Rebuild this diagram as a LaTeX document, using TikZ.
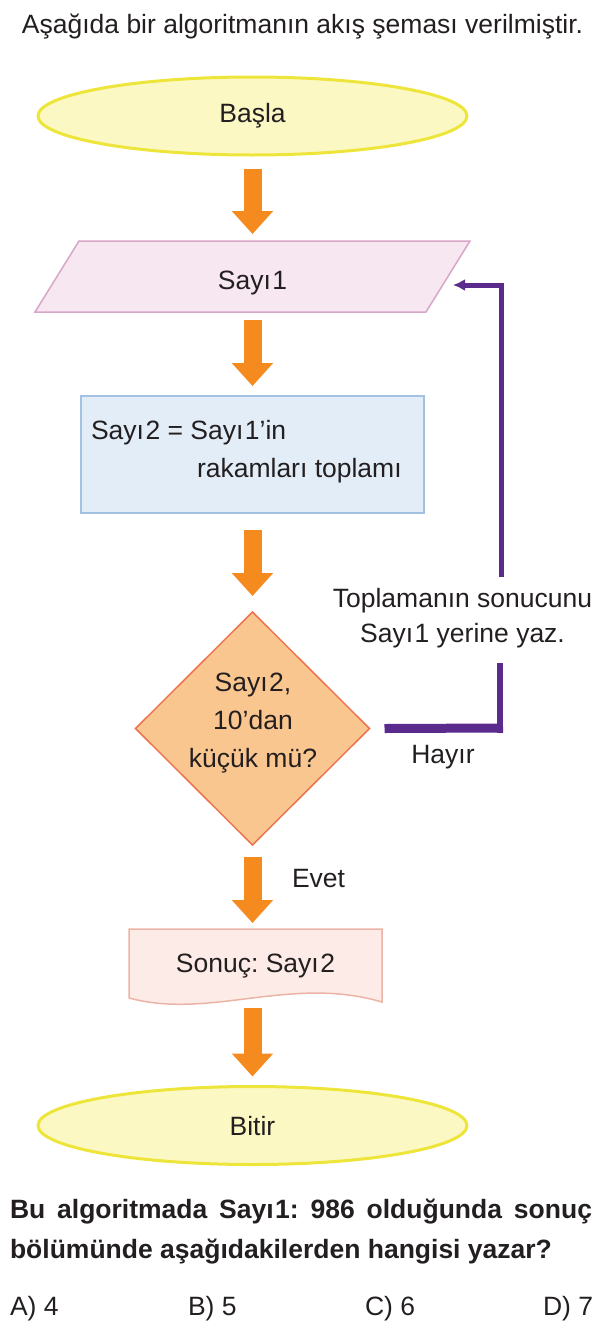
\documentclass[tikz,border=0pt]{standalone}
\usepackage{fontspec}
\setmainfont{Liberation Sans}
\usetikzlibrary{shapes.geometric,arrows.meta}
\definecolor{txt}{HTML}{231F20}
\definecolor{ellfill}{HTML}{FCF8C4}
\definecolor{elldraw}{HTML}{EDE53A}
\definecolor{parfill}{HTML}{F6E7F1}
\definecolor{pardraw}{HTML}{D8A6C8}
\definecolor{recfill}{HTML}{E2EDF8}
\definecolor{recdraw}{HTML}{A3C2E2}
\definecolor{diafill}{HTML}{FAC68F}
\definecolor{diadraw}{HTML}{EC7550}
\definecolor{docfill}{HTML}{FCEBE6}
\definecolor{docdraw}{HTML}{EBB4A6}
\definecolor{orng}{HTML}{F58A1F}
\definecolor{purp}{HTML}{5A2A8C}
\newcommand{\sy}{Sayı\kern1.5pt}
\frenchspacing
\begin{document}
\begin{tikzpicture}[x=1pt,y=-1pt,
  font=\fontsize{26.5}{31}\selectfont, text=txt,
  every node/.style={inner sep=0pt, outer sep=0pt},
  term/.style={ellipse, draw=elldraw, fill=ellfill, line width=3pt, minimum width=429pt, minimum height=78pt},
  flowarrow/.style={draw=orng, line width=18pt, -{Triangle[width=40pt,length=23pt]}},
  txtb/.style={anchor=base},
  txtw/.style={anchor=base west},
  qfont/.style={font=\fontsize{26.5}{31}\selectfont\bfseries}]
\useasboundingbox (0,0) rectangle (597,1328);

% title
\node[txtb] (title) at (302.5,33) {Aşağıda bir algoritmanın akış şeması verilmiştir.};

% start
\node[term] (start) at (252.5,116) {Başla};

% input parallelogram
\draw[draw=pardraw, fill=parfill, line width=1.5pt] (79,241) -- (470,241) -- (426,312) -- (35,312) -- cycle;
\node[minimum width=391pt, minimum height=71pt] (s1) at (252.5,276.5) {};
\node[txtb] (s1t) at (252.5,289) {\sy1};

% process
\node[draw=recdraw, fill=recfill, line width=2pt, minimum width=343pt, minimum height=117pt] (r) at (252.5,454.5) {};
\node[txtw] (rt1) at (91,439) {\sy2 = \sy1’in};
\node[txtw] (rt2) at (197,477) {rakamları toplamı};

% decision
\node[diamond, draw=diadraw, fill=diafill, line width=1.5pt, minimum width=234pt, minimum height=233pt] (d) at (252.5,728.5) {};
\node[txtb] (dt1) at (253,691) {\sy2,};
\node[txtb] (dt2) at (253,729) {10’dan};
\node[txtb] (dt3) at (253,767) {küçük mü?};

% output document
\draw[draw=docdraw, fill=docfill, line width=1.5pt] (129,929) -- (382,929) -- (382,1002)
  .. controls (290,975) and (210,1020) .. (129,998) -- cycle;
\node[minimum width=253pt, minimum height=71pt] (doc) at (255.5,964.5) {};
\node[txtb] (doct) at (255.5,972) {Sonuç: \sy2};

% end
\node[term] (end) at (252.5,1125.5) {Bitir};

% orange arrows
\draw[flowarrow] ([yshift=-14pt]start.south) -- ([yshift=7pt]s1.north);
\draw[flowarrow] ([yshift=-8pt]s1.south) -- ([yshift=10pt]r.north);
\draw[flowarrow] ([yshift=-17pt]r.south) -- ([yshift=16pt]d.north);
\draw[flowarrow] ([yshift=-12pt]d.south) -- ([yshift=6pt]d.south |- doc.north);
\draw[flowarrow] ([yshift=-8pt]d.south |- doc.south) -- ([yshift=10pt]end.north);
\node[txtw] (evet) at (292,887) {Evet};

% loop back
\coordinate (p1) at (503,728);
\coordinate (p2) at (500,663);
\coordinate (p3) at (501,577);
\coordinate (p4) at (453,285);
\draw[purp, line width=9pt] ([xshift=15pt]d.east) -- (p1);
\draw[purp, line width=6pt] ([yshift=-4.5pt]p2 |- p1) -- (p2);
\draw[purp, line width=5pt, line join=miter, -{Latex[length=12pt,width=12pt]}] (p3) |- (p4);
\node[txtb] (lbl1) at (462.5,607) {Toplamanın sonucunu};
\node[txtb] (lbl2) at (462.5,642) {\sy1 yerine yaz.};
\node[txtb] (hayir) at (443,763) {Hayır};

% question
\node[txtw, qfont] (q1) at (10,1218) {\makebox[582pt][s]{Bu algoritmada \sy1: 986 olduğunda sonuç}};
\node[txtw, qfont] (q2) at (10,1258) {bölümünde aşağıdakilerden hangisi yazar?};

% answers
\node[txtw] (a) at (10,1315) {A) 4};
\node[txtw] (b) at (188,1315) {B) 5};
\node[txtw] (c) at (365,1315) {C) 6};
\node[txtw] (dd) at (543,1315) {D) 7};
\end{tikzpicture}
\end{document}
